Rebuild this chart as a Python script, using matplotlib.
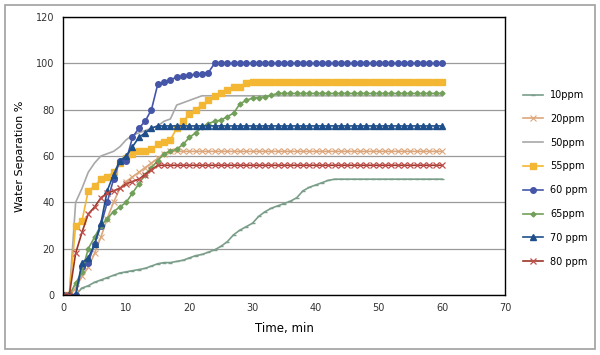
import numpy as np
import matplotlib
matplotlib.use('Agg')
import matplotlib.pyplot as plt
from matplotlib.patches import Rectangle

# time axis, one reading per minute
time_min = list(range(0, 61))

ppm10 = [0, 0, 0, 3, 4, 5.5, 6.5, 7.5, 8.5, 9.5, 10, 10.5, 11, 11.5, 12.5, 13.5, 14, 14, 14.5, 15,
         16, 17, 17.5, 18.5, 19.5, 21, 23, 26, 28, 29.5, 31, 34, 36, 37.5, 38.5, 39.5, 40.5, 42, 45, 46.5,
         47.5, 48.5, 49.5] + [50] * 18
ppm20 = [0, 0, 3, 8, 12, 18, 25, 33, 40, 46, 49, 51, 53, 55, 57, 59, 61] + [62] * 44
ppm50 = [0, 0, 40, 46, 53, 57, 60, 61, 62, 64, 67, 69, 70, 71, 72, 73, 75, 76, 82, 83,
         84, 85, 86] + [86] * 38
ppm55 = [0, 0, 30, 32, 45, 47, 50, 51, 53, 57, 59, 61, 62, 62, 63, 65, 66, 67, 72, 75,
         78, 80, 82, 84, 86, 87, 88.5, 90, 90, 91.5] + [92] * 31
ppm60 = [0, 0, 0, 12, 14, 22, 30, 40, 50, 58, 58, 68, 72, 75, 80, 91, 92, 93, 94, 94.5,
         95, 95.2, 95.6, 96, 100] + [100] * 36
ppm65 = [0, 0, 5, 10, 20, 25, 30, 33, 36, 38, 40, 44, 48, 52, 55, 58, 61, 62, 63, 65,
         68, 70, 72.5, 74, 75, 75.5, 77, 78.5, 82.5, 84, 85, 85.2, 85.5, 86.3, 87] + [87] * 26
ppm70 = [0, 0, 0, 14, 16, 22, 31, 45, 52, 58, 60, 64, 68, 70, 72] + [73] * 46
ppm80 = [0, 0, 18, 27, 35, 38, 42, 44, 45, 46, 48, 49, 50, 52, 54, 56] + [56] * 45

labels = ['10ppm', '20ppm', '50ppm', '55ppm', '60 ppm', '65ppm', '70 ppm', '80 ppm']

fig = plt.figure(figsize=(6, 3.55), dpi=100)
ax = fig.add_axes([0.105, 0.169, 0.737, 0.783])

ax.plot(time_min, ppm10, color='#7a9e8a', lw=1.2, marker='_', ms=3, label=labels[0])
ax.plot(time_min, ppm20, color='#dca77c', lw=1.2, marker='x', ms=4, mew=0.8, label=labels[1])
ax.plot(time_min, ppm50, color='#a8a8a8', lw=1.2, label=labels[2])
ax.plot(time_min, ppm55, color='#f4b733', lw=1.2, marker='s', ms=4, label=labels[3])
ax.plot(time_min, ppm60, color='#4556a8', lw=1.2, marker='o', ms=4, label=labels[4])
ax.plot(time_min, ppm65, color='#72a05a', lw=1.2, marker='D', ms=2.5, label=labels[5])
ax.plot(time_min, ppm70, color='#1f4f8a', lw=1.2, marker='^', ms=4.5, label=labels[6])
ax.plot(time_min, ppm80, color='#9b3525', lw=1.2, marker='x', ms=4.5, mew=0.9,
        markeredgecolor='#c0504d', label=labels[7])

ax.set_xlim(0, 70)
ax.set_ylim(0, 120)
ax.set_xticks(range(0, 71, 10))
ax.set_yticks(range(0, 121, 20))
ax.yaxis.grid(True, color='#9a9a9a', lw=0.9)
ax.set_axisbelow(True)
for s in ax.spines.values():
    s.set_color('black')
    s.set_linewidth(1.0)
ax.tick_params(length=0, labelsize=7, pad=6, colors='#333333')
ax.set_xlabel('Time, min', fontsize=8.5, labelpad=6)
ax.set_ylabel('Water Separation %', fontsize=8, labelpad=8)

fig.legend(loc='upper left', bbox_to_anchor=(0.868, 0.752), frameon=False,
           fontsize=7, labelspacing=1.42, handlelength=2.05, handletextpad=0.8,
           borderpad=0.2, borderaxespad=0)

# outer chart frame
fig.patches.append(Rectangle((0.008, 0.017), 0.984, 0.97, transform=fig.transFigure,
                             fill=False, edgecolor='#a0a0a0', lw=1.2))

fig.savefig('out.png', dpi=100)
